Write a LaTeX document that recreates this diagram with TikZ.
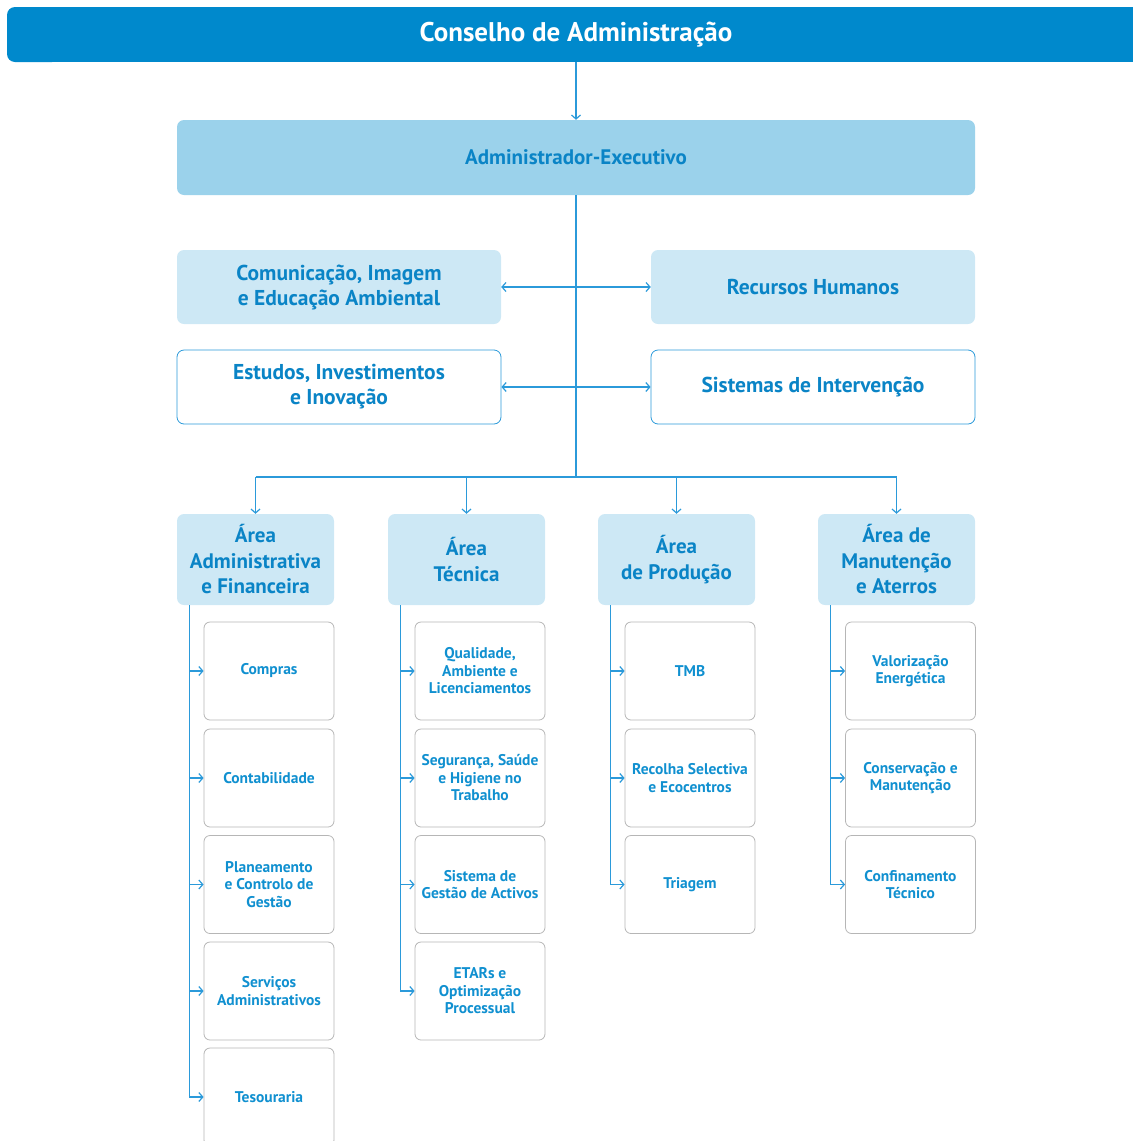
\documentclass[tikz,border=0pt]{standalone}
\usepackage{fontspec}
\setmainfont{PT Sans}
\usetikzlibrary{arrows.meta}
\definecolor{boardblue}{RGB}{0,137,204}
\definecolor{execblue}{RGB}{155,210,235}
\definecolor{paleblue}{RGB}{205,232,245}
\definecolor{textblue}{RGB}{10,132,198}
\definecolor{leafblue}{RGB}{16,144,208}
\definecolor{lineblue}{RGB}{43,154,218}
\definecolor{leafgray}{RGB}{182,182,182}

\tikzset{
  box/.style={rounded corners=7pt, align=center, inner sep=0pt, text=textblue},
  execbox/.style={box, fill=execblue, minimum width=798pt, minimum height=75pt,
    font=\fontsize{21}{25}\selectfont\bfseries},
  headbox/.style={box, fill=paleblue, minimum width=324pt, minimum height=74pt,
    font=\fontsize{21.5}{25}\selectfont\bfseries},
  outlinebox/.style={headbox, fill=white, draw=lineblue, line width=0.8pt},
  areabox/.style={box, fill=paleblue, minimum width=157pt, minimum height=91pt,
    font=\fontsize{21}{25.5}\selectfont\bfseries},
  leafbox/.style={box, rounded corners=6pt, fill=white, draw=leafgray, line width=0.8pt,
    minimum width=130pt, minimum height=98pt, text=leafblue,
    font=\fontsize{15.5}{17.5}\selectfont\bfseries},
  line/.style={draw=lineblue, line width=1.2pt},
  link/.style={line, -{Straight Barb[length=4pt,width=9pt]}},
  twoway/.style={line, {Straight Barb[length=4pt,width=9pt]}-{Straight Barb[length=4pt,width=9pt]}}
}

\begin{document}
\begin{tikzpicture}[x=1pt,y=-1pt]
\useasboundingbox (0,0) rectangle (1133,1141);

% Board bar
\fill[boardblue, rounded corners=8pt] (7,7) rectangle (60,62);
\fill[boardblue] (30,7) rectangle (1133,62);
\node[text=white, font=\fontsize{27}{30}\selectfont\bfseries] (board) at (576,35) {Conselho de Administração};

% Executive
\node[execbox] (exec) at (576,157.5) {Administrador-Executivo};

% Staff
\node[headbox] (com) at (339,287) {Comunicação, Imagem\\e Educação Ambiental};
\node[headbox] (rh) at (813,287) {Recursos Humanos};
\node[outlinebox] (est) at (339,387) {Estudos, Investimentos\\e Inovação};
\node[outlinebox] (sis) at (813,387) {Sistemas de Intervenção};

% Areas
\node[areabox] (a1) at (255.5,559.5) {Área\\Administrativa\\e Financeira};
\node[areabox] (a2) at (466.5,559.5) {Área\\Técnica};
\node[areabox] (a3) at (676.5,559.5) {Área\\de Produção};
\node[areabox] (a4) at (896.5,559.5) {Área de\\Manutenção\\e Aterros};

% Units
\node[leafbox] (compras) at (269,671) {Compras};
\node[leafbox] (contab) at (269,778) {Contabilidade};
\node[leafbox] (plan) at (269,884.5) {Planeamento\\e Controlo de\\Gestão};
\node[leafbox] (serv) at (269,991) {Serviços\\Administrativos};
\node[leafbox] (tes) at (269,1097) {Tesouraria};

\node[leafbox] (qual) at (480,671) {Qualidade,\\Ambiente e\\Licenciamentos};
\node[leafbox] (seg) at (480,778) {Segurança, Saúde\\e Higiene no\\Trabalho};
\node[leafbox] (sga) at (480,884.5) {Sistema de\\Gestão de Activos};
\node[leafbox] (etar) at (480,991) {ETARs e\\Optimização\\Processual};

\node[leafbox] (tmb) at (690,671) {TMB};
\node[leafbox] (rec) at (690,778) {Recolha Selectiva\\e Ecocentros};
\node[leafbox] (tri) at (690,884.5) {Triagem};

\node[leafbox] (val) at (910.5,671) {Valorização\\Energética};
\node[leafbox] (cons) at (910.5,778) {Conservação e\\Manutenção};
\node[leafbox] (conf) at (910.5,884.5) {Confinamento\\Técnico};

% Connectors
\draw[link] (board.south |- 0,62) -- (exec.north);
\coordinate (hub) at (576,477);
\draw[line] (exec.south) -- (hub);
\draw[twoway] (com.east) -- (rh.west);
\draw[twoway] (est.east) -- (sis.west);
\draw[line] (a1.north |- hub) -- (a4.north |- hub);
\foreach \a in {a1,a2,a3,a4}
  \draw[link] (\a.north |- hub) -- (\a.north);

\foreach \a/\u in {a1/compras,a1/contab,a1/plan,a1/serv,a1/tes,
                   a2/qual,a2/seg,a2/sga,a2/etar,
                   a3/tmb,a3/rec,a3/tri,
                   a4/val,a4/cons,a4/conf}
  \draw[link] ([xshift=13pt]\a.south west) |- (\u.west);
\end{tikzpicture}
\end{document}
